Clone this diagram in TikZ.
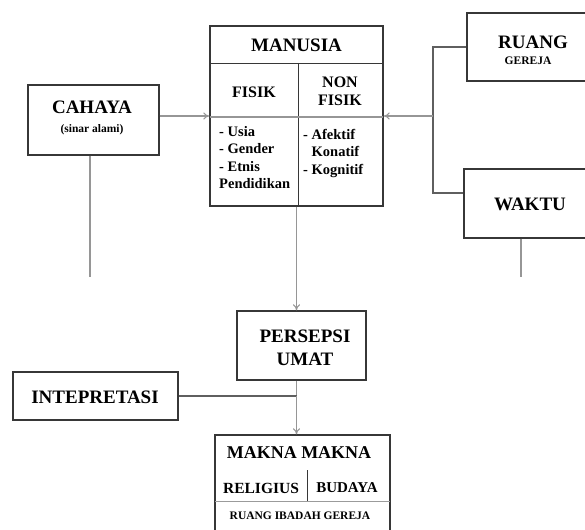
\documentclass[tikz,border=0pt]{standalone}
\usepackage{fontspec}
\setmainfont{Liberation Serif}
\usetikzlibrary{arrows.meta}

\begin{document}
\begin{tikzpicture}[x=1pt, y=-1pt,
    every node/.style={inner sep=0pt, font=\bfseries},
    kotak/.style={draw=tepi, line width=1.4pt},
    sekat/.style={draw=tepi, line width=0.9pt},
    garis/.style={draw=abu, line width=1.1pt},
    gelap/.style={draw=tepi!80, line width=1.3pt},
    panah/.style={garis, -{To[length=6pt,width=7pt]}},
    judul/.style={font=\fontsize{19}{21}\selectfont\bfseries},
    kecil/.style={font=\fontsize{11.5}{13}\selectfont\bfseries},
    daftar/.style={font=\fontsize{14.5}{17.5}\selectfont\bfseries, align=left, anchor=north west}]
    \definecolor{abu}{RGB}{150,150,150}
    \definecolor{tepi}{RGB}{55,55,55}

    \useasboundingbox (0,0) rectangle (585,529);
    \clip (0,0) rectangle (585,529);

    % Kotak-kotak utama.
    \node[kotak, minimum width=131, minimum height=70] (cahaya) at (93.5,120) {};
    \node[judul] (tCahaya) at (92,107) {CAHAYA};
    \node[kecil] (sCahaya) at (92,130) {(sinar alami)};

    \node[kotak, minimum width=173, minimum height=180] (manusia) at (296.5,116) {};
    \draw[sekat] (210,63) -- (383,63);
    \draw[sekat] (298,63) -- (298,206);
    \draw[garis] (210,117) -- (383,117);
    \node[judul] (tManusia) at (296.5,45) {MANUSIA};
    \node[font=\fontsize{16}{18}\selectfont\bfseries] (tFisik) at (254,92) {FISIK};
    \node[font=\fontsize{16}{18}\selectfont\bfseries, align=center] (tNonFisik) at (340,91) {NON\\FISIK};
    \node[daftar] (lFisik) at (219,126) {- Usia\\- Gender\\- Etnis\\Pendidikan};
    \node[daftar] (lNonFisik) at (303,129) {- Afektif\\\phantom{- }Konatif\\- Kognitif};

    \node[kotak, minimum width=132, minimum height=68] (ruang) at (533,47) {};
    \node[judul] (tRuang) at (533,42) {RUANG};
    \node[kecil] (sRuang) at (528,61) {GEREJA};

    \node[kotak, minimum width=134, minimum height=69] (waktu) at (531,203.5) {};
    \node[judul] (tWaktu) at (530,204) {WAKTU};

    \node[kotak, minimum width=129, minimum height=69] (persepsi) at (301.5,345.5) {};
    \node[judul, align=center, font=\fontsize{19}{23}\selectfont\bfseries] (tPersepsi) at (305,348) {PERSEPSI\\UMAT};

    \node[kotak, minimum width=165, minimum height=48] (intepretasi) at (95.5,396) {};
    \node[judul] (tIntepretasi) at (95,397) {INTEPRETASI};

    \node[kotak, minimum width=175, minimum height=110] (makna) at (302.5,490) {};
    \draw[sekat] (307,470) -- (307,501);
    \draw[sekat, draw=tepi!50] (215,501) -- (390,501);
    \node[font=\fontsize{18}{20}\selectfont\bfseries] (tMakna) at (299,453) {MAKNA MAKNA};
    \node[font=\fontsize{15.5}{18}\selectfont\bfseries] (tReligius) at (261,488) {RELIGIUS};
    \node[font=\fontsize{15}{18}\selectfont\bfseries] (tBudaya) at (347,488) {BUDAYA};
    \node[font=\fontsize{11.5}{13}\selectfont\bfseries] (tRuangIbadah) at (300,516) {RUANG IBADAH GEREJA};

    % Penghubung.
    \coordinate (kA) at (433,47);
    \coordinate (kB) at (433,193);
    \coordinate (kurung) at (433,116);
    \draw[gelap] (ruang.west) -- (kA) -- (kB) -- (kB -| waktu.west);
    \draw[panah] (kurung) -- (manusia.east);
    \draw[panah] (cahaya.east |- manusia.west) -- (manusia.west);

    \coordinate (cahayaUjung) at (90,277);
    \coordinate (waktuUjung) at (521,277);
    \draw[garis] (cahayaUjung |- cahaya.south) -- (cahayaUjung);
    \draw[garis] (waktuUjung |- waktu.south) -- (waktuUjung);

    \draw[panah] (manusia.south) -- (manusia.south |- persepsi.north);
    \coordinate (temu) at (296.5,396);
    \draw[garis] (temu |- persepsi.south) -- (temu);
    \draw[gelap] (intepretasi.east) -- (temu);
    \draw[panah] (temu) -- (temu |- makna.north);
\end{tikzpicture}
\end{document}
